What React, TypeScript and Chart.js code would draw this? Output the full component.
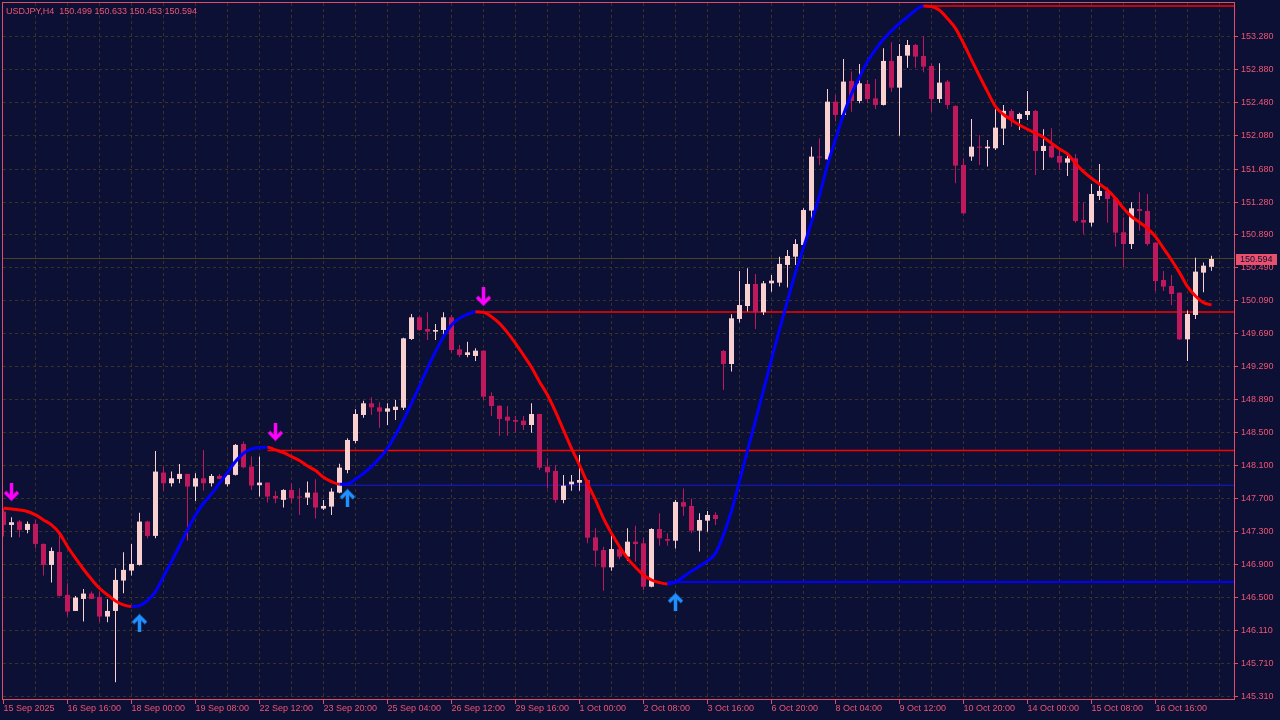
import React, { useEffect, useRef } from 'react';
import { Chart, registerables } from 'chart.js';

Chart.register(...registerables);

const symbolTitle = 'USDJPY,H4';

const opens = [
  147.542, 147.380, 147.421, 147.320, 147.393, 147.151, 146.897, 147.054, 146.535, 146.341,
  146.486, 146.551, 146.511, 146.273, 146.341, 146.708, 146.829, 146.897, 147.421, 147.248,
  148.013, 147.884, 147.936, 147.997, 147.844, 147.944, 147.884, 147.972, 147.872, 147.985,
  148.359, 148.085, 147.860, 147.892, 147.731, 147.683, 147.803, 147.719, 147.711, 147.771,
  147.578, 147.602, 147.771, 148.044, 148.395, 148.709, 148.850, 148.801, 148.749, 148.769,
  148.797, 149.627, 149.889, 149.748, 149.716, 149.736, 149.889, 149.502, 149.434, 149.422,
  149.486, 148.938, 148.821, 148.689, 148.648, 148.640, 148.588, 148.721, 148.084, 148.032,
  147.682, 147.871, 147.891, 147.923, 147.230, 147.077, 146.868, 147.089, 146.997, 147.178,
  147.158, 146.634, 147.331, 147.210, 147.190, 147.656, 147.609, 147.311, 147.432, 147.501,
  149.482, 149.325, 149.869, 150.026, 150.292, 149.950, 150.300, 150.308, 150.522, 150.622,
  150.763, 151.178, 151.831, 151.798, 152.495, 152.334, 152.745, 152.503, 152.709, 152.535,
  152.455, 152.987, 152.664, 153.051, 153.180, 153.047, 152.926, 152.527, 152.737, 152.443,
  151.730, 151.831, 151.951, 151.931, 151.931, 152.170, 152.382, 152.286, 152.334, 152.382,
  151.899, 151.960, 151.839, 151.758, 151.810, 151.065, 151.033, 151.355, 151.416, 151.327,
  150.916, 150.775, 151.198, 151.174, 150.791, 150.340, 150.268, 150.187, 149.623, 149.917,
  150.429, 150.499,
];

const highs = [
  147.582, 147.473, 147.441, 147.421, 147.441, 147.155, 147.107, 147.260, 146.676, 146.523,
  146.607, 146.575, 146.575, 146.482, 146.857, 147.050, 147.151, 147.529, 147.430, 148.274,
  148.085, 148.025, 148.117, 148.000, 148.005, 148.287, 147.997, 147.997, 147.990, 148.359,
  148.387, 148.206, 148.206, 147.895, 147.791, 147.811, 147.884, 147.823, 147.904, 147.932,
  147.683, 147.823, 148.121, 148.427, 148.777, 148.882, 148.922, 148.862, 148.850, 148.890,
  149.643, 149.929, 149.905, 149.949, 149.808, 149.949, 149.917, 149.555, 149.595, 149.514,
  149.490, 148.983, 148.825, 148.817, 148.701, 148.697, 148.850, 148.725, 148.185, 148.104,
  147.984, 147.984, 148.225, 147.930, 147.339, 147.118, 147.259, 147.130, 147.339, 147.371,
  147.226, 147.339, 147.520, 147.279, 147.682, 147.822, 147.700, 147.521, 147.549, 147.533,
  149.494, 149.925, 150.449, 150.481, 150.413, 150.328, 150.401, 150.622, 150.703, 150.832,
  151.206, 151.951, 152.052, 152.648, 152.576, 153.011, 152.858, 152.950, 152.757, 152.769,
  153.140, 153.212, 153.192, 153.240, 153.192, 153.289, 152.958, 152.958, 152.757, 152.450,
  151.810, 152.286, 152.092, 152.032, 152.403, 152.455, 152.407, 152.362, 152.624, 152.395,
  152.161, 152.173, 151.911, 151.851, 151.863, 151.279, 151.500, 151.742, 151.460, 151.330,
  151.097, 151.279, 151.400, 151.380, 150.795, 150.449, 150.401, 150.190, 149.970, 150.610,
  150.550, 150.633,
];

const lows = [
  147.240, 147.231, 147.231, 147.280, 147.099, 146.768, 146.684, 146.515, 146.273, 146.341,
  146.213, 146.486, 146.205, 146.205, 145.480, 146.555, 146.768, 146.889, 147.219, 147.219,
  147.795, 147.844, 147.884, 147.191, 147.670, 147.795, 147.844, 147.932, 147.844, 147.977,
  148.065, 147.803, 147.723, 147.650, 147.642, 147.590, 147.642, 147.501, 147.622, 147.457,
  147.562, 147.501, 147.763, 148.004, 148.366, 148.676, 148.709, 148.556, 148.588, 148.648,
  148.769, 149.615, 149.728, 149.615, 149.615, 149.635, 149.462, 149.405, 149.405, 149.361,
  148.890, 148.697, 148.459, 148.459, 148.495, 148.527, 148.495, 148.044, 147.822, 147.649,
  147.641, 147.794, 147.794, 147.158, 146.876, 146.586, 146.828, 146.965, 146.944, 146.936,
  146.594, 146.626, 147.130, 147.130, 147.097, 147.490, 147.279, 147.058, 147.299, 147.380,
  149.011, 149.233, 149.825, 149.958, 149.748, 149.917, 150.199, 150.260, 150.248, 150.522,
  150.731, 151.025, 151.730, 151.790, 152.254, 152.314, 152.374, 152.475, 152.475, 152.407,
  152.447, 152.616, 152.084, 152.906, 152.906, 152.850, 152.374, 152.483, 152.407, 151.508,
  151.134, 151.782, 151.730, 151.710, 151.911, 151.972, 152.193, 152.153, 152.274, 151.609,
  151.669, 151.810, 151.669, 151.597, 151.033, 150.896, 150.985, 151.307, 151.033, 150.743,
  150.493, 150.715, 150.936, 150.755, 150.207, 150.207, 150.038, 149.615, 149.361, 149.869,
  150.191, 150.453,
];

const closes = [
  147.380, 147.413, 147.320, 147.393, 147.151, 146.897, 147.066, 146.523, 146.333, 146.503,
  146.551, 146.486, 146.273, 146.341, 146.716, 146.837, 146.909, 147.421, 147.248, 148.025,
  147.884, 147.944, 147.997, 147.844, 147.944, 147.884, 147.972, 147.936, 147.985, 148.347,
  148.077, 147.856, 147.892, 147.723, 147.699, 147.803, 147.703, 147.711, 147.771, 147.590,
  147.610, 147.783, 148.073, 148.407, 148.721, 148.850, 148.801, 148.749, 148.789, 148.809,
  149.635, 149.889, 149.736, 149.716, 149.736, 149.889, 149.494, 149.434, 149.466, 149.486,
  148.930, 148.817, 148.660, 148.640, 148.628, 148.588, 148.721, 148.072, 148.016, 147.682,
  147.855, 147.903, 147.923, 147.226, 147.069, 146.868, 147.089, 146.997, 147.178, 147.150,
  146.634, 147.331, 147.218, 147.190, 147.658, 147.601, 147.311, 147.440, 147.501, 147.452,
  149.325, 149.877, 150.038, 150.292, 149.950, 150.300, 150.332, 150.534, 150.630, 150.775,
  151.186, 151.831, 151.819, 152.495, 152.334, 152.737, 152.503, 152.717, 152.527, 152.455,
  152.987, 152.664, 153.047, 153.180, 153.039, 152.918, 152.527, 152.725, 152.455, 151.722,
  151.146, 151.951, 151.939, 151.951, 152.181, 152.384, 152.274, 152.346, 152.382, 151.899,
  151.960, 151.822, 151.758, 151.810, 151.053, 151.033, 151.379, 151.416, 151.319, 150.912,
  150.775, 151.206, 151.174, 150.775, 150.328, 150.260, 150.171, 149.623, 149.929, 150.441,
  150.513, 150.594,
];

const smoothLine = [
  147.582, 147.574, 147.562, 147.542, 147.501, 147.441, 147.380, 147.280, 147.119, 146.978,
  146.845, 146.724, 146.615, 146.535, 146.462, 146.414, 146.394, 146.406, 146.466, 146.575,
  146.756, 146.937, 147.127, 147.320, 147.501, 147.642, 147.755, 147.884, 148.013, 148.146,
  148.246, 148.299, 148.315, 148.319, 148.287, 148.254, 148.206, 148.158, 148.093, 148.037,
  147.956, 147.904, 147.872, 147.876, 147.931, 148.004, 148.084, 148.185, 148.306, 148.467,
  148.648, 148.850, 149.059, 149.273, 149.474, 149.655, 149.796, 149.877, 149.925, 149.957,
  149.949, 149.897, 149.816, 149.704, 149.575, 149.434, 149.285, 149.111, 148.950, 148.749,
  148.527, 148.306, 148.104, 147.883, 147.682, 147.460, 147.279, 147.118, 146.977, 146.868,
  146.775, 146.715, 146.683, 146.667, 146.690, 146.755, 146.820, 146.880, 146.947, 147.037,
  147.260, 147.550, 147.910, 148.280, 148.640, 149.010, 149.380, 149.740, 150.090, 150.430,
  150.730, 151.040, 151.360, 151.730, 152.040, 152.340, 152.590, 152.790, 152.980, 153.125,
  153.250, 153.350, 153.440, 153.520, 153.600, 153.650, 153.645, 153.600, 153.500, 153.380,
  153.200, 152.999, 152.805, 152.616, 152.435, 152.340, 152.274, 152.213, 152.161, 152.113,
  152.064, 151.992, 151.923, 151.863, 151.750, 151.649, 151.569, 151.500, 151.428, 151.327,
  151.206, 151.106, 151.037, 150.965, 150.864, 150.723, 150.582, 150.429, 150.260, 150.147,
  150.066, 150.038,
];

const downArrowIndex = [1, 34, 60];
const downArrowPrice = [147.778, 148.503, 150.135];
const upArrowIndex = [17, 43, 84];
const upArrowPrice = [146.196, 147.706, 146.45];

const levelStartIndex = [33, 42, 59, 83, 115];
const levelPrice = [148.28, 147.86, 149.953, 146.69, 153.65];

const timeTickIndex = [0, 8, 16, 24, 32, 40, 48, 56, 64, 72, 80, 88, 96, 104, 112, 120, 128, 136, 144];
const timeTickLabels = [
  '15 Sep 2025', '16 Sep 16:00', '18 Sep 00:00', '19 Sep 08:00', '22 Sep 12:00', '23 Sep 20:00',
  '25 Sep 04:00', '26 Sep 12:00', '29 Sep 16:00', '1 Oct 00:00', '2 Oct 08:00', '3 Oct 16:00',
  '6 Oct 20:00', '8 Oct 04:00', '9 Oct 12:00', '10 Oct 20:00', '14 Oct 00:00', '15 Oct 08:00',
  '16 Oct 16:00',
];

const priceTickLabels = [
  '153.280', '152.880', '152.480', '152.080', '151.680', '151.280', '150.890', '150.490',
  '150.090', '149.690', '149.290', '148.890', '148.500', '148.100', '147.700', '147.300',
  '146.900', '146.500', '146.110', '145.710', '145.310',
];

const X_MIN = -0.0625;
const X_MAX = 153.8125;
const Y_MIN = 145.277;
const Y_MAX = 153.687;

const BG = '#0c1034';
const GRID = '#3a3222';
const TEXT = '#ef5574';
const FRAME = '#de4d6a';
const BULL = '#f9d0d0';
const BEAR = '#c0185c';
const FONT = '9px "Liberation Sans", Arial, sans-serif';

function makeArrow(color: string, down: boolean): HTMLCanvasElement {
  const c = document.createElement('canvas');
  c.width = 17;
  c.height = 19;
  const g = c.getContext('2d') as CanvasRenderingContext2D;
  if (!down) {
    g.translate(0, 19);
    g.scale(1, -1);
  }
  g.strokeStyle = color;
  g.lineWidth = 3.5;
  g.lineCap = 'butt';
  g.lineJoin = 'miter';
  g.beginPath();
  g.moveTo(8.5, 0);
  g.lineTo(8.5, 16);
  g.stroke();
  g.beginPath();
  g.moveTo(2, 9.5);
  g.lineTo(8.5, 16);
  g.lineTo(15, 9.5);
  g.stroke();
  return c;
}

export default function App() {
  const ref = useRef<HTMLCanvasElement>(null);

  useEffect(() => {
    const canvas = ref.current;
    if (!canvas) return;
    const n = closes.length;
    const isBull = closes.map((c, i) => c >= opens[i]);
    const candleColors = isBull.map((b) => (b ? BULL : BEAR));

    const levelStyles = [
      { color: '#ff0000', width: 1.5 },
      { color: '#1a1ad0', width: 1 },
      { color: '#ff0000', width: 1.5 },
      { color: '#0000ff', width: 2 },
      { color: '#ff0000', width: 1.5 },
    ];

    const levelDatasets: any[] = levelStartIndex.map((s, k) => ({
      type: 'line',
      data: [
        { x: s, y: levelPrice[k] },
        { x: X_MAX, y: levelPrice[k] },
      ],
      borderColor: levelStyles[k].color,
      borderWidth: levelStyles[k].width,
      pointRadius: 0,
      order: 9,
    }));

    const mtPlugin = {
      id: 'mtLook',
      beforeDraw(chart: any) {
        const { ctx, width, height } = chart;
        ctx.save();
        ctx.fillStyle = BG;
        ctx.fillRect(0, 0, width, height);
        ctx.restore();
      },
      beforeDatasetsDraw(chart: any) {
        const { ctx, chartArea: a, scales } = chart;
        const x = scales.x;
        const y = scales.y;
        ctx.save();
        ctx.beginPath();
        ctx.rect(a.left, a.top, a.right - a.left, a.bottom - a.top);
        ctx.clip();
        ctx.strokeStyle = GRID;
        ctx.lineWidth = 1;
        ctx.setLineDash([3, 3]);
        for (const lab of priceTickLabels) {
          const py = Math.floor(y.getPixelForValue(parseFloat(lab))) + 0.5;
          ctx.beginPath();
          ctx.moveTo(a.left, py);
          ctx.lineTo(a.right, py);
          ctx.stroke();
        }
        for (let i = 4; i <= n; i += 4) {
          const px = Math.floor(x.getPixelForValue(i)) + 0.5;
          ctx.beginPath();
          ctx.moveTo(px, a.top);
          ctx.lineTo(px, a.bottom);
          ctx.stroke();
        }
        ctx.setLineDash([]);
        ctx.strokeStyle = '#4a4125';
        const cp = Math.floor(y.getPixelForValue(closes[n - 1])) + 0.5;
        ctx.beginPath();
        ctx.moveTo(a.left, cp);
        ctx.lineTo(a.right, cp);
        ctx.stroke();
        ctx.restore();
      },
      afterDraw(chart: any) {
        const { ctx, chartArea: a, scales } = chart;
        const x = scales.x;
        const y = scales.y;
        ctx.save();
        ctx.setLineDash([]);
        ctx.strokeStyle = FRAME;
        ctx.lineWidth = 1;
        ctx.strokeRect(a.left - 0.5, a.top - 0.5, a.right - a.left + 1, a.bottom - a.top + 1);

        ctx.font = FONT;
        ctx.fillStyle = TEXT;
        ctx.textAlign = 'left';
        ctx.textBaseline = 'middle';
        for (const lab of priceTickLabels) {
          const py = Math.floor(y.getPixelForValue(parseFloat(lab))) + 0.5;
          ctx.beginPath();
          ctx.moveTo(a.right + 0.5, py);
          ctx.lineTo(a.right + 4, py);
          ctx.stroke();
          ctx.fillText(lab, a.right + 7, py + 0.5);
        }
        timeTickIndex.forEach((idx, k) => {
          const px = Math.floor(x.getPixelForValue(idx)) + 0.5;
          ctx.beginPath();
          ctx.moveTo(px, a.bottom + 0.5);
          ctx.lineTo(px, a.bottom + 5);
          ctx.stroke();
          ctx.fillText(timeTickLabels[k], px, a.bottom + 9.5);
        });

        const last = n - 1;
        const header =
          symbolTitle + '  ' + opens[last].toFixed(3) + ' ' + highs[last].toFixed(3) + ' ' +
          lows[last].toFixed(3) + ' ' + closes[last].toFixed(3);
        ctx.fillText(header, a.left + 3, a.top + 8.5);

        const bp = Math.round(y.getPixelForValue(closes[last]));
        ctx.fillStyle = '#e8506e';
        ctx.fillRect(a.right + 2, bp - 5, 41, 11);
        ctx.fillStyle = BG;
        ctx.fillText(closes[last].toFixed(3), a.right + 6, bp + 0.5);
        ctx.restore();
      },
    };

    const chart = new Chart(canvas, {
      type: 'bar',
      data: {
        datasets: [
          ...levelDatasets,
          {
            type: 'bar',
            data: closes.map((_, i) => ({ x: i, y: [lows[i], highs[i]] })),
            backgroundColor: candleColors,
            borderWidth: 0,
            barThickness: 1,
            grouped: false,
            inflateAmount: 0,
            order: 8,
          },
          {
            type: 'bar',
            data: closes.map((c, i) => ({ x: i, y: [opens[i], c] })),
            backgroundColor: candleColors,
            borderWidth: 0,
            barThickness: 5,
            minBarLength: 1,
            grouped: false,
            inflateAmount: 0,
            order: 7,
          },
          {
            type: 'line',
            data: smoothLine.map((v, i) => ({ x: i, y: v })),
            borderColor: '#ff0000',
            borderWidth: 3,
            pointRadius: 0,
            tension: 0,
            cubicInterpolationMode: 'monotone',
            segment: {
              borderColor: (c: any) => (c.p1.parsed.y > c.p0.parsed.y ? '#0000ff' : '#ff0000'),
            },
            order: 2,
          },
          {
            type: 'line',
            data: downArrowIndex.map((i, k) => ({ x: i, y: downArrowPrice[k] })),
            showLine: false,
            pointStyle: makeArrow('#ff00ff', true),
            pointRadius: 6,
            order: 1,
          },
          {
            type: 'line',
            data: upArrowIndex.map((i, k) => ({ x: i, y: upArrowPrice[k] })),
            showLine: false,
            pointStyle: makeArrow('#1e90ff', false),
            pointRadius: 6,
            order: 1,
          },
        ] as any,
      },
      options: {
        animation: false,
        responsive: false,
        maintainAspectRatio: false,
        devicePixelRatio: 1,
        events: [],
        layout: { autoPadding: false, padding: { left: 3, top: 3, right: 46, bottom: 21 } },
        scales: {
          x: {
            type: 'linear',
            display: false,
            min: X_MIN,
            max: X_MAX,
            offset: false,
            bounds: 'data',
          },
          y: {
            type: 'linear',
            display: false,
            min: Y_MIN,
            max: Y_MAX,
            beginAtZero: false,
            bounds: 'data',
          },
        },
        plugins: {
          legend: { display: false },
          tooltip: { enabled: false },
        },
      } as any,
      plugins: [mtPlugin],
    });

    return () => chart.destroy();
  }, []);

  return (
    <div style={{ position: 'absolute', left: 0, top: 0, width: 1280, height: 720, background: BG }}>
      <canvas ref={ref} width={1280} height={720} style={{ display: 'block', width: 1280, height: 720 }} />
    </div>
  );
}
